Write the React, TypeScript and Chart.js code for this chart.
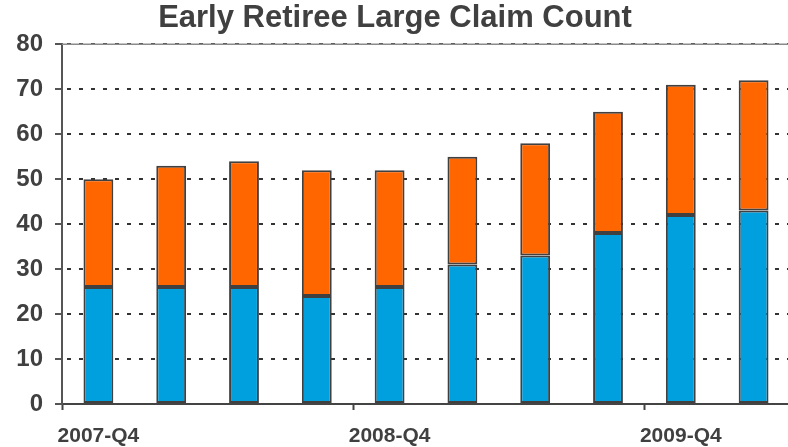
import React, { useEffect, useRef } from "react";
import { Chart, registerables } from "chart.js";

Chart.register(...registerables);

const categories = [
  "2007-Q4", "2008-Q1", "2008-Q2", "2008-Q3", "2008-Q4",
  "2009-Q1", "2009-Q2", "2009-Q3", "2009-Q4", "2010-Q1",
];
const lowerValues = [26, 26, 26, 24, 26, 31, 33, 38, 42, 43];
const upperValues = [24, 27, 28, 28, 26, 24, 25, 27, 29, 29];
const yTicks = [0, 10, 20, 30, 40, 50, 60, 70, 80];

const FONT = "'Liberation Sans', Arial, sans-serif";
const TEXT = "#404040";

const topLine = {
  id: "topLine",
  beforeDatasetsDraw(chart: any) {
    const { ctx, chartArea } = chart;
    ctx.save();
    ctx.strokeStyle = "#8a8a8a";
    ctx.lineWidth = 1.5;
    ctx.beginPath();
    ctx.moveTo(chartArea.left, chartArea.top);
    ctx.lineTo(chartArea.right, chartArea.top);
    ctx.stroke();
    ctx.restore();
  },
};

export default function App() {
  const ref = useRef<HTMLCanvasElement>(null);
  useEffect(() => {
    if (!ref.current) return;
    const chart = new Chart(ref.current, {
      type: "bar",
      data: {
        labels: categories,
        datasets: [
          {
            label: "Lower",
            data: lowerValues,
            backgroundColor: "#00A0DE",
            borderColor: "#404040",
            borderWidth: 2,
            borderSkipped: false,
          },
          {
            label: "Upper",
            data: upperValues,
            backgroundColor: "#FF6600",
            borderColor: "#404040",
            borderWidth: 2,
            borderSkipped: false,
          },
        ],
      },
      plugins: [topLine],
      options: {
        responsive: false,
        animation: false,
        layout: { padding: { left: 0, right: 0, top: 0, bottom: 0 } },
        datasets: { bar: { categoryPercentage: 1, barPercentage: 0.41 } },
        plugins: {
          legend: { display: false },
          tooltip: { enabled: false },
          title: {
            display: true,
            text: "Early Retiree Large Claim Count",
            color: TEXT,
            font: { family: FONT, size: 31, weight: "bold" },
            padding: { top: 0, bottom: 7 },
          },
        },
        scales: {
          x: {
            stacked: true,
            afterFit: (s: any) => { s.height = 43; },
            grid: {
              display: true,
              drawOnChartArea: false,
              offset: true,
              tickLength: 6,
              tickWidth: 2,
              tickColor: (c: any) => (c.index % 4 === 0 ? "#444" : "transparent"),
            },
            border: { display: true, color: "#444", width: 2 },
            ticks: {
              autoSkip: false,
              maxRotation: 0,
              minRotation: 0,
              padding: 14,
              color: TEXT,
              font: { family: FONT, size: 21, weight: "bold" },
              callback: (_v: any, i: number) => (i % 4 === 0 ? categories[i] : ""),
            },
          },
          y: {
            stacked: true,
            min: yTicks[0],
            max: yTicks[yTicks.length - 1],
            afterFit: (s: any) => { s.width = 62; },
            afterBuildTicks: (s: any) => { s.ticks = yTicks.map((v) => ({ value: v })); },
            grid: {
              color: (c: any) => (c.tick && c.tick.value === 0 ? "transparent" : "#333"),
              lineWidth: 2,
              tickLength: 7,
              tickColor: "#555",
              tickWidth: 2,
              tickBorderDash: [],
            },
            border: { display: true, color: "#555", width: 2, dash: [4, 8], dashOffset: -4 },
            ticks: {
              padding: 12,
              color: TEXT,
              font: { family: FONT, size: 24, weight: "bold" },
            },
          },
        },
      } as any,
    });
    return () => chart.destroy();
  }, []);
  return (
    <div style={{ position: "fixed", left: 0, top: 0, width: 788, height: 447, overflow: "hidden", background: "#fff" }}>
      <canvas ref={ref} width={790} height={447} style={{ width: 790, height: 447, display: "block" }} />
    </div>
  );
}
